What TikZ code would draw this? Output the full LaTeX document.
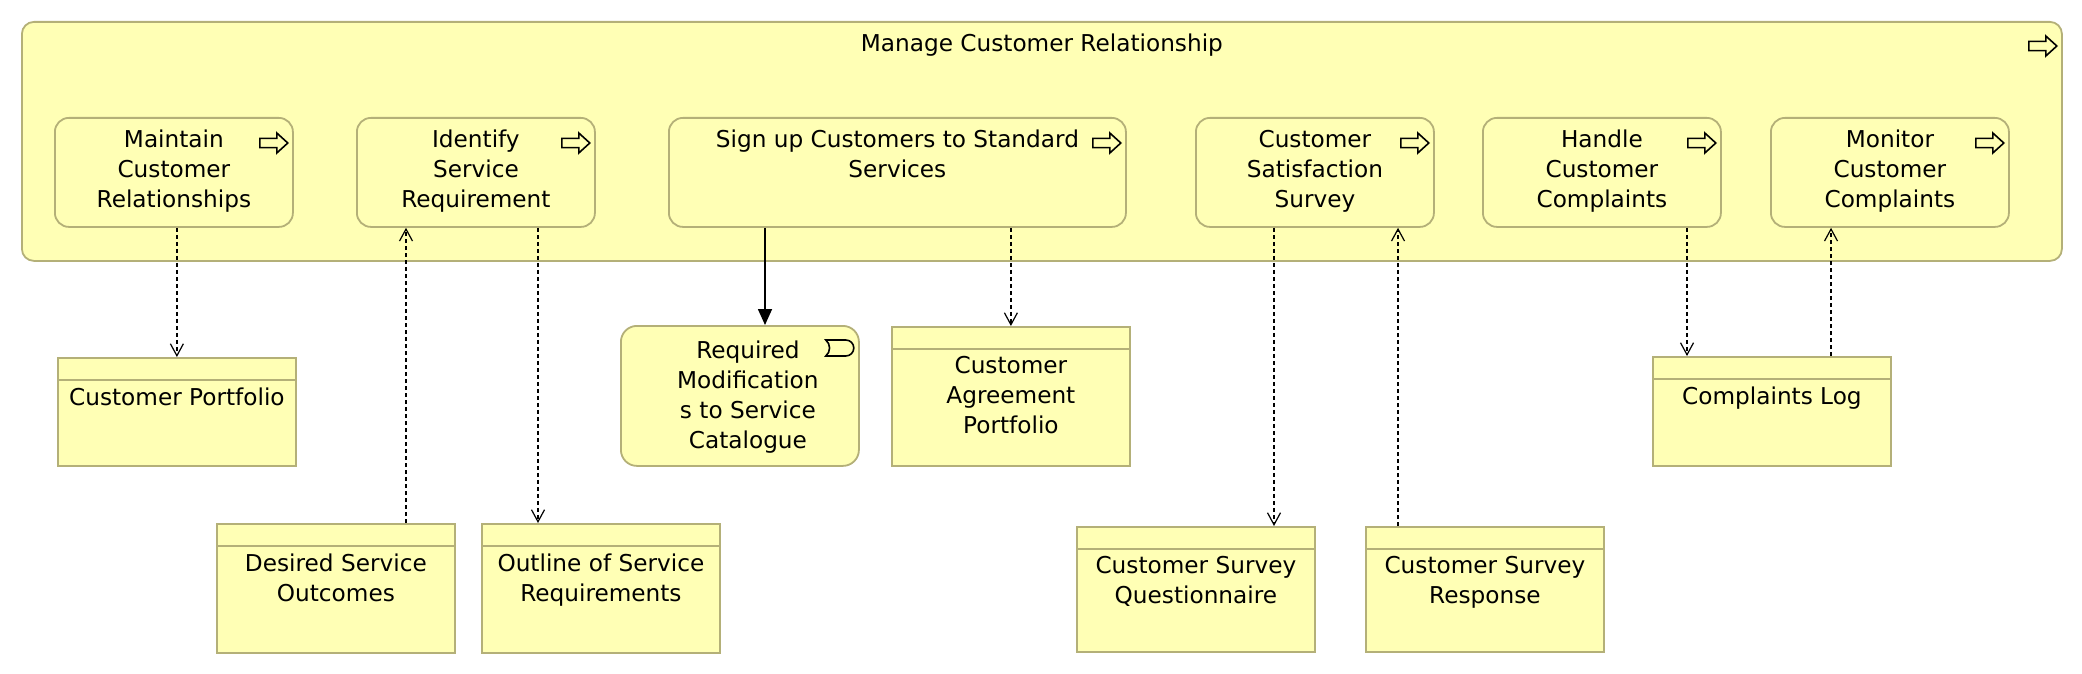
\documentclass[tikz,border=0pt]{standalone}
\usepackage{fontspec}
\setmainfont{DejaVu Sans}
\usetikzlibrary{arrows.meta}

\definecolor{bizfill}{HTML}{FFFFB5}
\definecolor{bizline}{HTML}{B4B078}
\newcommand\bodytxt{\fontsize{11.6}{15}\selectfont}

\tikzset{
  proc/.style={draw=bizline, fill=bizfill, line width=0.9pt, rounded corners=7pt, anchor=north west,
    minimum width=119pt, minimum height=54.5pt, inner sep=0pt},
  evt/.style={proc, rounded corners=8pt, minimum height=70pt},
  obj/.style={draw=bizline, fill=bizfill, line width=0.9pt, anchor=north west,
    minimum width=119pt, inner sep=0pt},
  txt/.style={anchor=north, align=center, inner sep=0pt, font=\bodytxt},
  access/.style={line width=0.6pt, dash pattern=on 2pt off 1.5pt, -{Straight Barb[length=6pt,width=6.5pt]}},
  trigger/.style={line width=0.8pt, -{Triangle[length=8pt,width=7pt]}},
  procarrow/.pic={
    \draw[line width=0.8pt, fill=bizfill] (-7pt,2.3pt) -- (1.5pt,2.3pt) -- (1.5pt,5pt) -- (7pt,0pt)
      -- (1.5pt,-5pt) -- (1.5pt,-2.3pt) -- (-7pt,-2.3pt) -- cycle;
  },
  evticon/.pic={
    \draw[line width=0.8pt] (-7pt,4pt) -- (3pt,4pt) arc[start angle=90, end angle=-90, radius=4pt]
      -- (-7pt,-4pt) .. controls (-4.5pt,-2pt) and (-4.5pt,2pt) .. (-7pt,4pt) -- cycle;
  }
}

\begin{document}
\begin{tikzpicture}[x=0.5pt, y=-0.5pt]
\useasboundingbox (0,0) rectangle (2082,674);

%Container
\node[proc, rounded corners=6pt, minimum width=1020pt, minimum height=119.5pt,
  label={[txt, yshift=-6.2pt]north:Manage Customer Relationship}] (manage) at (21,21) {};
\pic at ([xshift=-10pt, yshift=-12.5pt]manage.north east) {procarrow};

%Processes
\node[proc, label={[txt, yshift=-6.4pt]north:Maintain\\Customer\\Relationships}] (maintain) at (54,117) {};
\node[proc, label={[txt, yshift=-6.4pt]north:Identify\\Service\\Requirement}] (identify) at (356,117) {};
\node[proc, minimum width=228.5pt, label={[txt, yshift=-6.4pt]north:Sign up Customers to Standard\\Services}] (signup) at (668,117) {};
\node[proc, label={[txt, yshift=-6.4pt]north:Customer\\Satisfaction\\Survey}] (survey) at (1195,117) {};
\node[proc, label={[txt, yshift=-6.4pt]north:Handle\\Customer\\Complaints}] (handle) at (1482,117) {};
\node[proc, label={[txt, yshift=-6.4pt]north:Monitor\\Customer\\Complaints}] (monitor) at (1770,117) {};
\foreach \p in {maintain,identify,signup,survey,handle,monitor}
  \pic at ([xshift=-10pt, yshift=-13pt]\p.north east) {procarrow};

%Event
\node[evt, label={[txt, xshift=4pt, yshift=-7.5pt]north:Required\\Modification\\s to Service\\Catalogue}] (reqmods) at (620,325) {};
\pic at ([xshift=-10pt, yshift=-11.5pt]reqmods.north east) {evticon};

%Objects
\node[obj, minimum height=54pt, label={[txt, yshift=-15pt]north:Customer Portfolio}] (portfolio) at (57,357) {};
\node[obj, minimum height=64.5pt, label={[txt, yshift=-15pt]north:Desired Service\\Outcomes}] (desired) at (216,523) {};
\node[obj, minimum height=64.5pt, label={[txt, yshift=-15pt]north:Outline of Service\\Requirements}] (outline) at (481,523) {};
\node[obj, minimum height=69.5pt, label={[txt, yshift=-15pt]north:Customer\\Agreement\\Portfolio}] (agreement) at (891,326) {};
\node[obj, minimum height=62.5pt, label={[txt, yshift=-15pt]north:Customer Survey\\Questionnaire}] (questionnaire) at (1076,526) {};
\node[obj, minimum height=62.5pt, label={[txt, yshift=-15pt]north:Customer Survey\\Response}] (response) at (1365,526) {};
\node[obj, minimum height=54.5pt, label={[txt, yshift=-15pt]north:Complaints Log}] (complog) at (1652,356) {};
\foreach \o in {portfolio,desired,outline,agreement,questionnaire,response,complog}
  \draw[bizline, line width=0.9pt] ([yshift=-11.5pt]\o.north west) -- ([yshift=-11.5pt]\o.north east);

%Relations
\draw[access] (maintain.south -| portfolio.north) -- (portfolio.north);
\draw[access] (desired.north -| 406,0) -- (identify.south -| 406,0);
\draw[access] (identify.south -| 538,0) -- (outline.north -| 538,0);
\draw[trigger] (signup.south -| 765,0) -- (reqmods.north -| 765,0);
\draw[access] (signup.south -| agreement.north) -- (agreement.north);
\draw[access] (survey.south -| 1274,0) -- (questionnaire.north -| 1274,0);
\draw[access] (response.north -| 1398,0) -- (survey.south -| 1398,0);
\draw[access] (handle.south -| 1687,0) -- (complog.north -| 1687,0);
\draw[access] (complog.north -| 1831,0) -- (monitor.south -| 1831,0);

\end{tikzpicture}
\end{document}
